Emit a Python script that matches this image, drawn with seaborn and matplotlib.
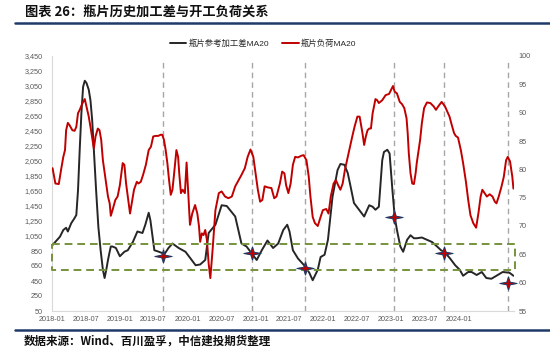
import numpy as np
import pandas as pd
import matplotlib
matplotlib.use("Agg")
import matplotlib.pyplot as plt
from matplotlib.lines import Line2D
from matplotlib.path import Path
from matplotlib.ticker import FuncFormatter
import seaborn as sns

# ---- data (time axis: months elapsed since Jan 2018) ----
spread_t = [0.1, 1.4, 2.0, 2.5, 2.8, 3.4, 4.0, 4.3, 4.6, 4.9,
            5.2, 5.5, 5.8, 6.1, 6.5, 6.8, 7.1, 7.4, 7.8, 8.2,
            8.6, 9.0, 9.3, 9.6, 9.9, 10.2, 10.4, 10.7, 11.3, 12.0,
            12.8, 13.4, 14.3, 15.1, 16.0, 16.5, 17.1, 17.4, 18.1, 18.9,
            19.9, 20.6, 21.3, 22.4, 23.6, 24.4, 25.4, 26.2, 27.1, 27.7,
            28.9, 30.0, 30.9, 32.4, 33.5, 34.4, 35.3, 36.2, 37.1, 38.1,
            39.1, 40.0, 40.9, 41.6, 42.0, 42.6, 43.5, 44.1, 44.7, 45.5,
            46.1, 47.0, 47.5, 48.2, 48.8, 49.6, 50.5, 51.0, 51.7, 52.3,
            52.8, 53.4, 54.3, 55.2, 56.1, 56.7, 57.2, 57.8, 58.4, 58.7,
            59.3, 59.7, 60.2, 60.6, 61.0, 61.6, 62.1, 62.8, 63.4, 64.0,
            64.5, 65.4, 66.3, 67.2, 68.1, 68.8, 69.5, 70.4, 71.3, 72.1,
            72.7, 73.6, 74.2, 75.1, 76.0, 76.8, 77.7, 78.6, 79.7, 80.9,
            81.6]
spread_ma20 = [930, 1040, 1130, 1160, 1110, 1220, 1290, 1330, 1660, 2200,
               2690, 3040, 3120, 3090, 3000, 2860, 2600, 2200, 1660, 1170,
               860, 600, 490, 600, 730, 840, 910, 910, 890, 780,
               840, 860, 970, 1110, 1090, 1200, 1360, 1260, 860, 840,
               810, 890, 950, 890, 840, 760, 660, 670, 730, 1090,
               1200, 1460, 1450, 1310, 950, 910, 820, 730, 860, 990,
               890, 950, 1130, 1200, 1110, 860, 750, 700, 650, 560,
               460, 600, 770, 800, 1000, 1570, 1930, 2010, 2000, 1890,
               1710, 1490, 1400, 1310, 1460, 1440, 1400, 1440, 2060, 2170,
               2200, 2150, 1660, 1310, 1130, 910, 840, 1000, 1060, 1020,
               1020, 1030, 1000, 970, 910, 860, 830, 750, 660, 600,
               520, 570, 570, 530, 570, 490, 480, 520, 570, 560,
               520]

load_t = [0.1, 0.6, 1.2, 1.6, 2.0, 2.3, 2.5, 2.8, 3.1, 3.6,
          4.0, 4.3, 4.6, 4.9, 5.4, 5.8, 6.1, 6.5, 6.9, 7.4,
          7.7, 8.1, 8.4, 8.7, 9.0, 9.4, 9.9, 10.2, 10.4, 10.7,
          11.2, 11.6, 12.0, 12.5, 12.8, 13.1, 13.4, 13.8, 14.1, 14.5,
          15.0, 15.3, 15.7, 16.1, 16.6, 17.1, 17.5, 17.9, 18.3, 18.8,
          19.2, 19.5, 19.8, 20.1, 20.4, 20.7, 21.0, 21.3, 21.6, 22.0,
          22.3, 22.5, 22.8, 23.1, 23.5, 23.8, 24.0, 24.4, 24.8, 25.3,
          25.7, 26.0, 26.2, 26.5, 26.8, 27.1, 27.4, 27.7, 28.0, 28.4,
          28.9, 29.5, 30.0, 30.6, 31.2, 31.8, 32.4, 33.0, 33.5, 34.1,
          34.6, 35.1, 35.6, 36.0, 36.4, 36.8, 37.2, 37.6, 38.2, 38.8,
          39.3, 39.7, 40.3, 40.7, 41.1, 41.4, 41.8, 42.2, 42.6, 43.0,
          43.5, 44.1, 44.5, 45.0, 45.4, 45.7, 46.1, 46.5, 47.0, 47.5,
          47.9, 48.5, 48.9, 49.3, 49.8, 50.2, 50.6, 51.0, 51.4, 51.8,
          52.3, 52.7, 53.1, 53.5, 54.0, 54.4, 54.9, 55.2, 55.5, 55.8,
          56.1, 56.4, 56.7, 57.2, 57.5, 57.8, 58.4, 59.0, 59.6, 60.0,
          60.3, 60.6, 61.0, 61.5, 61.9, 62.3, 62.7, 62.9, 63.1, 63.4,
          63.7, 64.0, 64.3, 64.5, 64.8, 65.1, 65.4, 65.8, 66.3, 66.9,
          67.5, 67.9, 68.3, 68.9, 69.5, 69.9, 70.3, 70.7, 71.1, 71.4,
          71.8, 72.3, 72.7, 73.2, 73.6, 74.0, 74.5, 75.0, 75.4, 75.8,
          76.1, 76.5, 76.9, 77.4, 77.9, 78.3, 78.6, 79.0, 79.5, 79.9,
          80.3, 80.6, 81.0, 81.4, 81.6]
load_ma20 = [80.2, 77.5, 77.4, 79.9, 82.2, 83.4, 86.9, 88.2, 87.8, 86.9,
             86.8, 87.5, 89.9, 90.5, 91.7, 92.4, 91.1, 89.3, 86.9, 83.7,
             85.8, 87.2, 86.9, 85.2, 81.6, 78.7, 75.2, 74.0, 71.8, 72.8,
             74.6, 75.2, 77.2, 81.1, 80.8, 77.5, 75.2, 72.2, 74.0, 76.4,
             77.8, 77.5, 77.8, 79.0, 80.8, 83.4, 84.0, 85.8, 85.9, 85.9,
             86.1, 86.1, 85.2, 83.4, 81.1, 78.1, 75.5, 76.4, 79.3, 83.4,
             82.2, 79.3, 75.8, 76.4, 75.8, 81.2, 77.5, 70.2, 72.2, 73.7,
             72.2, 69.9, 67.2, 68.7, 68.4, 69.3, 67.5, 63.4, 60.8, 65.8,
             72.8, 75.8, 76.1, 75.2, 74.9, 75.2, 77.0, 78.1, 79.0, 80.2,
             82.2, 83.5, 82.2, 79.3, 76.4, 74.3, 74.6, 77.0, 76.8, 76.7,
             74.9, 75.2, 77.5, 79.6, 79.3, 77.2, 75.8, 77.5, 80.8, 82.2,
             82.1, 82.4, 82.5, 81.6, 78.7, 75.2, 71.6, 70.5, 70.0, 71.6,
             72.8, 73.0, 72.2, 75.2, 77.5, 78.1, 77.2, 76.4, 77.5, 79.9,
             82.2, 84.0, 85.8, 87.5, 89.3, 89.3, 86.4, 84.3, 85.8, 86.9,
             87.2, 87.2, 89.9, 92.4, 92.2, 91.7, 92.2, 93.1, 93.3, 94.1,
             94.7, 93.7, 93.4, 91.9, 91.5, 90.8, 89.0, 86.4, 82.8, 79.3,
             77.5, 77.4, 79.3, 81.1, 83.1, 85.2, 88.1, 90.8, 91.8, 91.7,
             91.1, 90.5, 91.1, 91.9, 91.1, 90.2, 89.3, 87.8, 86.4, 85.9,
             85.6, 83.4, 81.1, 77.8, 74.6, 71.9, 70.5, 69.7, 72.2, 75.2,
             76.4, 75.8, 75.2, 75.6, 75.2, 74.3, 74.0, 75.2, 77.0, 78.7,
             81.6, 82.2, 81.4, 78.7, 76.6]

# marked turning points on the spread series
event_t = [19.6, 35.3, 44.7, 60.5, 69.3, 80.6]
event_spread = [790, 820, 630, 1310, 830, 420]

# reference band for the spread
band_low, band_high = 600, 950

x_tick_labels = ["2018-01", "2018-07", "2019-01", "2019-07", "2020-01",
                 "2020-07", "2021-01", "2021-07", "2022-01", "2022-07",
                 "2023-01", "2023-07", "2024-01"]

series_names = ["瓶片参考加工差MA20", "瓶片负荷MA20"]
title = "图表 26：瓶片历史加工差与开工负荷关系"
source = "数据来源：Wind、百川盈孚，中信建投期货整理"

START = pd.Timestamp("2018-01-01")


def to_date(months):
    return START + pd.to_timedelta(np.asarray(months, dtype=float) * 30.4375, unit="D")


df_spread = pd.DataFrame({"date": to_date(spread_t), "value": spread_ma20})
df_load = pd.DataFrame({"date": to_date(load_t), "value": load_ma20})

sns.set_theme(style="white")
plt.rcParams["font.family"] = ["Liberation Sans", "Noto Sans CJK SC", "DejaVu Sans"]

BLACK = "#262626"
RED = "#c00000"
GREEN = "#77933c"
NAVY = "#1f3a68"
TICK = "#595959"

fig = plt.figure(figsize=(5.5, 3.5), dpi=100)
ax = fig.add_axes([52 / 550, 1 - 311 / 350, (514 - 52) / 550, (311 - 56) / 350])

# event markers (vertical dashed guides)
for t in event_t:
    ax.axvline(to_date(t), ymin=0, ymax=0.975, color="#a6a6a6",
               ls=(0, (4, 3)), lw=1.0, zorder=1)

sns.lineplot(data=df_spread, x="date", y="value", ax=ax, color=BLACK,
             lw=1.4, legend=False, zorder=3)

ax2 = ax.twinx()
sns.lineplot(data=df_load, x="date", y="value", ax=ax2, color=RED,
             lw=1.4, legend=False, zorder=3)

# band rectangle, in left-axis units
bx = to_date([0, 81.8, 81.8, 0, 0])
by = [band_high, band_high, band_low, band_low, band_high]
ax2.plot(bx, by, transform=ax.transData, color=GREEN, lw=1.4,
         ls=(0, (4, 2.5)), clip_on=False, zorder=4)

# four-pointed star markers
star = Path.unit_regular_star(4, 0.28)
star = Path(star.vertices * np.array([1.3, 1.0]), star.codes)
ax2.scatter(to_date(event_t), event_spread, transform=ax.transData,
            marker=star, s=240, color="#8497b0", alpha=0.5,
            linewidths=0, zorder=5, clip_on=False)
ax2.scatter(to_date(event_t), event_spread, transform=ax.transData,
            marker=star, s=150, facecolor=RED, edgecolor="#1f3864",
            linewidths=0.7, zorder=6, clip_on=False)

# axes
ax.set_xlim(to_date(0), to_date(81.7))
ax.set_ylim(50, 3450)
ax.set_yticks(np.arange(50, 3451, 200))
ax.yaxis.set_major_formatter(FuncFormatter(lambda v, p: f"{v:,.0f}"))
ax2.set_ylim(55, 100)
ax2.set_yticks(np.arange(55, 101, 5))
ax.set_xticks(pd.to_datetime(x_tick_labels, format="%Y-%m"))
ax.set_xticklabels(x_tick_labels)
ax.set_xlabel("")
ax.set_ylabel("")
ax2.set_ylabel("")
ax2.set_xlabel("")

ax.tick_params(axis="y", length=0, labelsize=5.2, colors=TICK, pad=6.5)
ax.tick_params(axis="x", length=0, labelsize=5.2, colors=TICK, pad=3.8)
ax2.tick_params(axis="y", length=0, labelsize=5.2, colors=TICK, pad=3.5)

for s in ["top", "right"]:
    ax.spines[s].set_visible(False)
for s in ["left", "bottom"]:
    ax.spines[s].set_color("#d9d9d9")
    ax.spines[s].set_linewidth(0.8)
for s in ax2.spines.values():
    s.set_visible(False)
ax.grid(False)
ax2.grid(False)

# legend
handles = [Line2D([], [], color=BLACK, lw=1.4), Line2D([], [], color=RED, lw=1.4)]
fig.legend(handles, series_names, loc="center", bbox_to_anchor=(263 / 550, 1 - 44 / 350),
           ncol=2, frameon=False, fontsize=6, handlelength=2.0,
           handletextpad=0.25, columnspacing=1.6)

# title, rules, source
fig.text(25 / 550, 1 - 12.7 / 350, title, fontsize=9.5, fontweight="bold",
         va="center", ha="left", color="#111111",
         family=["Noto Sans CJK SC", "DejaVu Sans"])
fig.add_artist(Line2D([15 / 550, 1.0], [1 - 23 / 350] * 2, color=NAVY, lw=1.8))
fig.add_artist(Line2D([15 / 550, 1.0], [1 - 330 / 350] * 2, color=NAVY, lw=1.8))
fig.text(24 / 550, 1 - 341 / 350, source, fontsize=8.3, fontweight="bold",
         va="center", ha="left", color="#111111",
         family=["Noto Sans CJK SC", "DejaVu Sans"])

fig.savefig("out.png", dpi=100)
